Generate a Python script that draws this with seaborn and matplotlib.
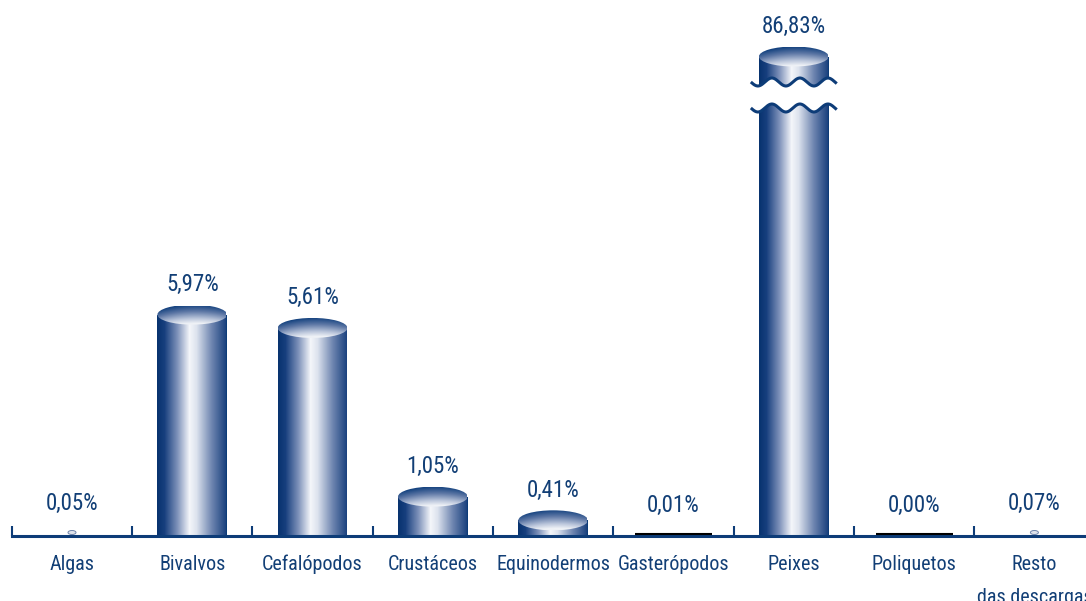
import numpy as np
import pandas as pd
import matplotlib
matplotlib.use("Agg")
import matplotlib.pyplot as plt
import seaborn as sns
from matplotlib import font_manager
from matplotlib.patches import Ellipse, Polygon
from matplotlib.colors import LinearSegmentedColormap
import matplotlib.transforms as mtrans

# ---------------- data ----------------
categories = ["Algas", "Bivalvos", "Cefalópodos", "Crustáceos", "Equinodermos",
              "Gasterópodos", "Peixes", "Poliquetos", "Resto\ndas descargas"]
values = [0.05, 5.97, 5.61, 1.05, 0.41, 0.01, 86.83, 0.00, 0.07]
value_labels = ["0,05%", "5,97%", "5,61%", "1,05%", "0,41%",
                "0,01%", "86,83%", "0,00%", "0,07%"]

# ---------------- style ----------------
NAVY = "#0d3c78"
TXT = "#123f76"

sns.set_theme(style="white")

available = {f.name for f in font_manager.fontManager.ttflist}
narrow_list = ["Liberation Sans Narrow", "Arial Narrow", "Roboto Condensed",
               "Open Sans Condensed", "DejaVu Sans Condensed"]
narrow = [n for n in narrow_list if n in available]
if narrow:
    FONT = [narrow[0], "Liberation Sans", "DejaVu Sans"]
    CAT_FS, VAL_FS = 14.5, 16.5
else:
    FONT = ["Liberation Sans", "DejaVu Sans"]
    CAT_FS, VAL_FS = 13, 14
plt.rcParams["font.family"] = FONT

AX_H_PX = 535.5          # axis height in pixels
PX_PER_UNIT = 37.0       # pixels per percent (below the break)
Y_TOP = AX_H_PX / PX_PER_UNIT
BREAK = 11.0
TALL_UNITS = 479.0 / PX_PER_UNIT
K = (TALL_UNITS - BREAK) / (max(values) - BREAK)


def fwd(y):
    y = np.asarray(y, dtype=float)
    return np.where(y <= BREAK, y, BREAK + (y - BREAK) * K)


def inv(y):
    y = np.asarray(y, dtype=float)
    return np.where(y <= BREAK, y, BREAK + (y - BREAK) / K)


fig = plt.figure(figsize=(10.86, 6.01), dpi=100)
fig.patch.set_facecolor("white")
ax = fig.add_axes([0, 65.5 / 601, 1, AX_H_PX / 601])
ax.set_facecolor("white")

df = pd.DataFrame({"cat": categories, "val": values})
sns.barplot(data=df, x="cat", y="val", order=categories, width=0.58,
            color=NAVY, saturation=1, errorbar=None, ax=ax, zorder=2)

ax.set_yscale("function", functions=(fwd, inv))
ax.set_ylim(0, float(inv(Y_TOP)))
ax.set_xlim(-72 / 120.3, (1086 - 72) / 120.3)

body_cmap = LinearSegmentedColormap.from_list("body", [
    (0.00, "#08336f"), (0.10, "#173f7e"), (0.28, "#7b8fb8"),
    (0.46, "#f4f6fa"), (0.56, "#dde3ee"), (0.78, "#6e85b0"),
    (1.00, "#143c7a")])
top_cmap = LinearSegmentedColormap.from_list("top", [
    (0.0, "#14427f"), (0.35, "#5d77a5"), (0.75, "#bcc7dc"), (1.0, "#eef1f6")])

gx = np.linspace(0, 1, 256)[None, :]
uu, vv = np.meshgrid(np.linspace(-1, 1, 80), np.linspace(0, 1, 60))
top_grad = np.clip(vv * 1.05 - 0.25 * uu ** 2 + 0.05 * uu, 0, 1)

ELL_H = 20.0 / PX_PER_UNIT   # ellipse height in scaled units
blend = mtrans.blended_transform_factory(ax.transData, ax.transAxes)

for p, v, lab in zip(ax.patches, values, value_labels):
    x0, w, h = p.get_x(), p.get_width(), p.get_height()
    xc = x0 + w / 2
    p.set_linewidth(0)
    if h >= 0.3:
        im = ax.imshow(gx, cmap=body_cmap, extent=(x0, x0 + w, 0, h),
                       aspect="auto", zorder=3, interpolation="bilinear")
        im.set_clip_path(p)
        hu = float(fwd(h))
        ylo = float(inv(hu - ELL_H / 2))
        yhi = float(inv(hu + ELL_H / 2))
        ell = Ellipse((xc, (ylo + yhi) / 2), w, yhi - ylo,
                      facecolor="none", edgecolor="none")
        ax.add_patch(ell)
        im2 = ax.imshow(top_grad, cmap=top_cmap, extent=(x0, x0 + w, ylo, yhi),
                        aspect="auto", zorder=4, interpolation="bilinear")
        im2.set_clip_path(ell)
        ax.annotate(lab, (xc, h), xytext=(0, 30), textcoords="offset pixels",
                    ha="center", va="center", fontsize=VAL_FS, color=TXT)
        if h > BREAK:
            # broken-axis waves
            y_top, y_bot = 453.5 / AX_H_PX, 427.5 / AX_H_PX
            amp = 4.0 / AX_H_PX
            xs = np.linspace(xc - 0.357, xc + 0.357, 200)
            ph = 2 * np.pi * (xs - xs[0]) / 0.233 + np.pi / 2
            wt = y_top + amp * np.cos(ph)
            wb = y_bot + amp * np.cos(ph)
            poly = Polygon(np.column_stack([np.r_[xs, xs[::-1]],
                                            np.r_[wt, wb[::-1]]]),
                           closed=True, facecolor="white", edgecolor="none",
                           transform=blend, zorder=5)
            ax.add_patch(poly)
            ax.plot(xs, wt, color=NAVY, lw=2.2, transform=blend, zorder=6,
                    solid_capstyle="butt")
            ax.plot(xs, wb, color=NAVY, lw=2.2, transform=blend, zorder=6,
                    solid_capstyle="butt")
    elif h >= 0.03:
        p.set_facecolor("none")
        tiny = Ellipse((xc, 3.0 / AX_H_PX), 8.0 / 120.3, 4.0 / AX_H_PX,
                       facecolor="#dfe3ec", edgecolor="#6f84aa", lw=0.7,
                       transform=blend, zorder=8)
        ax.add_patch(tiny)
        ax.annotate(lab, (xc, 0), xytext=(0, 32), textcoords="offset pixels",
                    ha="center", va="center", fontsize=VAL_FS, color=TXT)
    else:
        p.set_facecolor("none")
        ax.plot([xc - 0.32, xc + 0.32], [1.2 / AX_H_PX] * 2, color="black",
                lw=1.5, transform=blend, zorder=8, solid_capstyle="butt")
        ax.annotate(lab, (xc, 0), xytext=(0, 30), textcoords="offset pixels",
                    ha="center", va="center", fontsize=VAL_FS, color=TXT)

# axis styling
for s in ["top", "right", "left"]:
    ax.spines[s].set_visible(False)
ax.spines["bottom"].set_color(NAVY)
ax.spines["bottom"].set_linewidth(2.2)
ax.spines["bottom"].set_bounds(-0.5, 8.6)
ax.spines["bottom"].set_zorder(7)
ax.set_yticks([])
ax.set_ylabel("")
ax.set_xlabel("")
ax.set_xticks(range(len(categories)))
ax.set_xticklabels(categories)
ax.set_xticks(np.arange(-0.5, len(categories) - 1, 1.0), minor=True)
ax.tick_params(axis="x", which="major", length=0, pad=14.0, labelsize=CAT_FS,
               labelcolor=TXT)
ax.tick_params(axis="x", which="minor", direction="in", length=7.5, width=1.5,
               color=NAVY, bottom=True)
for t in ax.get_xticklabels():
    t.set_linespacing(1.95)
    t.set_multialignment("center")

fig.savefig("out.png", dpi=100, facecolor="white")
